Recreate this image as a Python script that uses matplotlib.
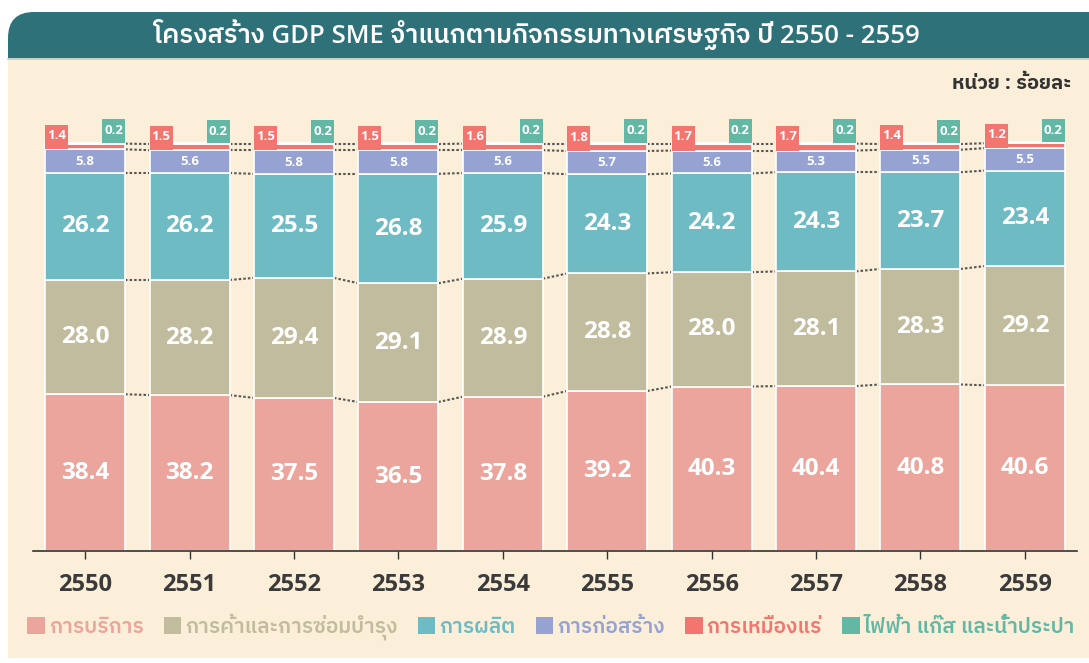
# โครงสร้าง GDP SME จำแนกตามกิจกรรมทางเศรษฐกิจ ปี 2550 - 2559
import numpy as np
import matplotlib
matplotlib.use('Agg')
import matplotlib.pyplot as plt
from matplotlib.patches import FancyBboxPatch, Rectangle, Patch

plt.rcParams['font.family'] = ['Open Sans', 'IBM Plex Sans Thai', 'DejaVu Sans']

years = ['2550', '2551', '2552', '2553', '2554', '2555', '2556', '2557', '2558', '2559']
services = [38.4, 38.2, 37.5, 36.5, 37.8, 39.2, 40.3, 40.4, 40.8, 40.6]
trade = [28.0, 28.2, 29.4, 29.1, 28.9, 28.8, 28.0, 28.1, 28.3, 29.2]
manufacturing = [26.2, 26.2, 25.5, 26.8, 25.9, 24.3, 24.2, 24.3, 23.7, 23.4]
construction = [5.8, 5.6, 5.8, 5.8, 5.6, 5.7, 5.6, 5.3, 5.5, 5.5]
mining = [1.4, 1.5, 1.5, 1.5, 1.6, 1.8, 1.7, 1.7, 1.4, 1.2]
utilities = [0.2, 0.2, 0.2, 0.2, 0.2, 0.2, 0.2, 0.2, 0.2, 0.2]

names = ['การบริการ', 'การค้าและการซ่อมบำรุง', 'การผลิต', 'การก่อสร้าง', 'การเหมืองแร่',
         'ไฟฟ้า แก๊ส และน้ำประปา']
colors = ['#eba59c', '#c2bc9e', '#6fbbc4', '#96a3d2', '#f37570', '#63b7a5']
title = 'โครงสร้าง GDP SME จำแนกตามกิจกรรมทางเศรษฐกิจ ปี 2550 - 2559'
unit = 'หน่วย : ร้อยละ'

W, H = 1089, 663
fig = plt.figure(figsize=(W / 100, H / 100), dpi=100)
fig.patch.set_facecolor('white')

# фон: шапка и кремовая панель (в пикселях)
bg = fig.add_axes([0, 0, 1, 1])
bg.set_xlim(0, W)
bg.set_ylim(H, 0)
bg.axis('off')
bg.add_patch(FancyBboxPatch((8, 12), W + 40, 90, boxstyle='round,pad=0,rounding_size=26',
                            facecolor='#2e7178', edgecolor='none'))
bg.add_patch(Rectangle((8, 58), W, 600, facecolor='#fcefd9', edgecolor='none'))
bg.plot([8, W], [58.5, 58.5], color='#b8cfc6', lw=1.2)
bg.text(537, 34, title, color='white', fontsize=18.5, fontweight='semibold',
        ha='center', va='center')
bg.text(1071, 84, unit, color='#333333', fontsize=14.5, fontweight='bold',
        ha='right', va='center')

ax = fig.add_axes([33 / W, 112 / H, 1044 / W, 449 / H])
ax.patch.set_alpha(0)
x = np.arange(len(years))
width = 0.766
series = [services, trade, manufacturing, construction, mining, utilities]
bottom = np.zeros(len(years))
bottoms = []
for vals, c in zip(series, colors):
    bottoms.append(bottom.copy())
    ax.bar(x, vals, width, bottom=bottom, color=c, edgecolor='white', linewidth=1.2, zorder=2)
    bottom = bottom + np.array(vals)
top = bottom

# пунктир между столбцами
for k in range(1, 6):
    level = bottoms[k]
    for i in range(len(years) - 1):
        ax.plot([x[i] + width / 2, x[i + 1] - width / 2], [level[i], level[i + 1]],
                ls=(0, (1.2, 1.0)), color='#555555', lw=1.5, zorder=1)

# подписи крупных сегментов
for k in range(3):
    for i in range(len(years)):
        ax.text(x[i], bottoms[k][i] + series[k][i] / 2, f'{series[k][i]:.1f}', color='white',
                fontsize=17.5, fontweight='bold', ha='center', va='center', zorder=4)
for i in range(len(years)):
    ax.text(x[i], bottoms[3][i] + construction[i] / 2, f'{construction[i]:.1f}', color='white',
            fontsize=9.5, fontweight='bold', ha='center', va='center', zorder=4)

# выноски для маленьких сегментов
box_w = 0.22
ax.bar(x - width / 2, 6.0, box_w, bottom=bottoms[4], align='edge', color=colors[4],
       edgecolor='none', zorder=3)
ax.bar(x + width / 2 - box_w, 5.8, box_w, bottom=top, align='edge', color=colors[5],
       edgecolor='none', zorder=3)
for i in range(len(years)):
    ax.text(x[i] - width / 2 + box_w / 2, bottoms[4][i] + 3.4, f'{mining[i]:.1f}', color='white',
            fontsize=9.5, fontweight='bold', ha='center', va='center', zorder=4)
    ax.text(x[i] + width / 2 - box_w / 2, top[i] + 2.9, f'{utilities[i]:.1f}', color='white',
            fontsize=9.5, fontweight='bold', ha='center', va='center', zorder=4)

ax.set_xlim(-0.5, 9.5)
ax.set_ylim(0, 110)
ax.set_xticks(x)
ax.set_xticklabels(years, fontsize=17, fontweight='bold', color='#3a3a3a')
ax.tick_params(axis='x', length=6, width=1, color='#333333', pad=10)
ax.set_yticks([])
for s in ['top', 'right', 'left']:
    ax.spines[s].set_visible(False)
ax.spines['bottom'].set_color('#333333')
ax.spines['bottom'].set_linewidth(1.2)

handles = [Patch(facecolor=c, edgecolor='none') for c in colors]
ax.legend(handles, names, loc='center', bbox_to_anchor=(551 / W, 1 - 627 / H),
          bbox_transform=fig.transFigure, ncol=6, frameon=False,
          prop={'size': 15, 'weight': 'semibold'},
          labelcolor=colors, handlelength=0.85, handleheight=0.85, handletextpad=0.2,
          columnspacing=0.95)

fig.savefig('out.png', dpi=100, facecolor=fig.get_facecolor())
